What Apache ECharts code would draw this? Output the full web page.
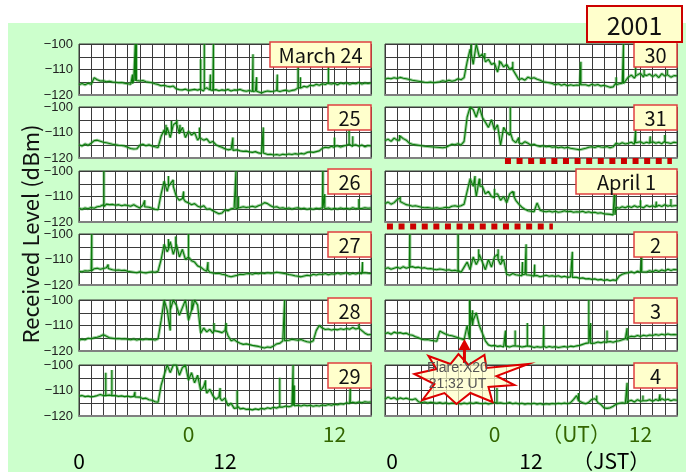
<!DOCTYPE html>
<html>
<head>
<meta charset="utf-8">
<script src="https://cdn.jsdelivr.net/npm/echarts@6/dist/echarts.min.js"></script>
<style>
html,body{margin:0;padding:0;background:#fff;}
#chart{width:686px;height:472px;}
</style>
</head>
<body>
<div id="chart"></div>
<script>
// Received level (dBm) sampled every 15 minutes, 0-24 h JST, one array per day.
const STEP = 0.25;
const panelNames = ['March 24', '25', '26', '27', '28', '29', '30', '31', 'April 1', '2', '3', '4'];
const yearLabel = '2001';

const mar24 = [
  -116,-115.5,-116,-115.4,-115.8,-113.2,-114,-114.5,
  -114.4,-114.8,-114.6,-114.9,-115,-115.2,-115.1,-115.4,
  -115.6,-115.8,-114.2,-114,-114.5,-114.3,-114.8,-115,
  -115.2,-115.6,-115.9,-116.4,-116.2,-116.6,-116.8,-116.5,
  -117.6,-117.9,-118,-117.7,-118.2,-118,-117.8,-118.1,
  -117.6,-118.4,-117.2,-118,-118.2,-117.9,-118.3,-118,
  -118.2,-117.8,-118.4,-118,-118.1,-117.8,-118.3,-118.5,
  -118.2,-118.6,-118.4,-118.9,-119.2,-118.7,-118.4,-118.6,
  -118.5,-118.2,-118.6,-118.3,-118.1,-118.5,-118.2,-118,
  -117.2,-117.5,-116.6,-116.9,-116.2,-116.4,-115.8,-116.2,
  -115.6,-115.9,-115.2,-115.7,-115.4,-116,-115.3,-115.6,
  -115.2,-115.8,-115.4,-115.6,-115.1,-115.7,-115.3,-115.5,
  -115.3
];
const mar25 = [
  -114.8,-115.3,-114.5,-115,-114.2,-113.2,-113,-113.4,
  -113.8,-114,-114.3,-114.6,-114.8,-115,-115.1,-115.3,
  -115.8,-116.3,-116.5,-116.4,-115,-114.6,-115.2,-114.8,
  -115.3,-115.6,-115.9,-111.5,-109,-108,-112,-107,
  -106,-110.5,-108,-112,-109.5,-111,-110,-113,
  -111.5,-113,-112.5,-114,-113.5,-114.8,-115.4,-115.8,
  -116.4,-116.8,-116.6,-117,-116.8,-117.2,-117.4,-117.3,
  -117.6,-117.8,-117.5,-118,-118.2,-118.4,-118.6,-118.5,
  -118.8,-118.6,-118.9,-118.5,-118.7,-118.4,-118.6,-118.3,
  -118.5,-118.2,-118.4,-117.8,-117.6,-117.8,-117.5,-117.2,
  -116.2,-115.8,-116,-115.4,-115.9,-115.2,-115.7,-115.3,
  -115,-114.2,-115.5,-114.8,-115.4,-114.9,-115.6,-115.1,
  -115.3
];
const mar26 = [
  -114.6,-115,-114.5,-114.8,-114.3,-114.6,-114,-113.8,
  -113.2,-113,-113.2,-113.1,-113.4,-113.2,-113.6,-113.3,
  -113.5,-113.8,-113.2,-113.9,-114.5,-113.4,-114.6,-114.2,
  -114.6,-115,-115.2,-109,-104,-108,-106,-103.5,
  -110,-111.5,-110.8,-112,-112.5,-113.2,-112.8,-113.8,
  -114.2,-113.6,-115,-114.8,-115.6,-116.2,-116.8,-116.5,
  -115.2,-115.6,-114.8,-114.6,-114.2,-114.5,-114,-114.3,
  -114.1,-113.8,-114.2,-113.6,-113.2,-112.4,-112.8,-113.6,
  -114.2,-114,-114.6,-114.4,-114.8,-114.5,-114.9,-114.6,
  -114.4,-114.8,-114.6,-115,-114.7,-115,-114.6,-114.8,
  -114.4,-114.8,-114.5,-115,-114.6,-114.9,-114.5,-114.8,
  -114.6,-114.9,-114.4,-114.8,-114.5,-114.7,-114.4,-114.6,
  -114.5
];
const mar27 = [
  -114.6,-114.8,-114.4,-114.5,-114.2,-113.6,-113.4,-113.8,
  -113.5,-113.2,-113.5,-114,-114.2,-114.1,-114.3,-114.2,
  -114.6,-114.8,-115,-115.2,-114.8,-115.1,-115.3,-115,
  -114.8,-115,-114.6,-110,-104,-107,-103,-108,
  -104,-109,-106,-110,-109,-110.5,-111,-112.5,
  -113,-114,-114.6,-115,-115.3,-115.5,-115.4,-115.8,
  -116,-116.5,-116.8,-116.5,-116.2,-115.8,-115.9,-115.6,
  -115.5,-115.8,-115.4,-115.6,-115.3,-115.5,-115.2,-115.4,
  -115.3,-115,-115.2,-115.4,-115.6,-115.9,-116.1,-116.4,
  -116.6,-116.8,-116.5,-116.2,-116.4,-115.8,-116.1,-115.7,
  -115.9,-115.5,-116,-115.6,-115.8,-115.3,-115.7,-115.5,
  -115.2,-115.8,-115.4,-115.7,-115.3,-115.6,-115.2,-115.4,
  -115.5
];
const mar28 = [
  -115.8,-115.4,-115.6,-115,-115.2,-114.8,-114.6,-114.2,
  -113.6,-114.2,-114.8,-115,-115.2,-115.1,-115.3,-115.2,
  -115.4,-115.6,-115.3,-115.7,-115.4,-115.6,-115.3,-115.5,
  -115.4,-115.7,-115.2,-108,-100,-104,-112,-100,
  -102,-106,-103,-100,-108,-104,-100,-102,
  -113,-111,-112.5,-111.5,-113,-112,-112.4,-112.8,
  -112,-114,-116,-115.5,-116.4,-117,-117.4,-117.2,
  -117.5,-117.8,-118,-118.2,-118.5,-118.8,-118.4,-118.6,
  -118,-117.2,-117,-116,-115.6,-115.8,-115.4,-115.6,
  -115.8,-115.5,-116,-116.4,-116.6,-116,-112,-110,
  -111,-111.6,-111.4,-111.8,-111.5,-111.7,-111.3,-111.6,
  -111.2,-111.5,-110.8,-111.4,-111,-112,-113,-113.6,
  -113.5
];
const mar29 = [
  -112.2,-112,-112.4,-112.2,-112.5,-112.3,-112,-111.6,
  -112,-111.4,-111.8,-112.2,-112,-112.3,-112.1,-112.4,
  -112.2,-112.5,-112.3,-112.8,-112.6,-113.2,-113,-113.6,
  -113.8,-114.4,-114.6,-108,-104,-100,-103,-100,
  -100,-104,-101,-100,-106,-103,-107,-104,
  -110,-108.5,-111,-109.5,-112,-113.5,-112.5,-114,
  -113,-116,-115,-117,-116.8,-117.2,-117,-117.4,
  -117.3,-117.6,-117.2,-117.5,-117,-117.3,-116.8,-117.1,
  -116.6,-116.9,-116.3,-116.5,-116.1,-116.4,-116,-116.2,
  -115.8,-116.1,-115.7,-116,-115.8,-116.2,-115.9,-116.1,
  -115.7,-115.9,-115.5,-115.8,-115.4,-115.6,-115.2,-115.4,
  -114.8,-115.1,-114.6,-114.9,-114.5,-114.8,-114.4,-114.6,
  -114.5
];
const mar30 = [
  -113.8,-113.4,-113.6,-113.2,-113.5,-113.1,-113.4,-113.6,
  -113.9,-114.2,-114.4,-114.6,-114.8,-115,-115.1,-114.9,
  -115.2,-115,-114.8,-114.4,-114.7,-114.2,-114.6,-114.3,
  -113.6,-114,-113.2,-107,-102,-108,-100,-105,
  -104,-107,-106,-108,-107.5,-111,-107,-109,
  -108,-110,-109,-112,-114,-113.5,-114.2,-113,
  -113.5,-113.2,-113.8,-114.2,-114.8,-115,-115.2,-115.5,
  -116,-115.6,-116.2,-115.8,-116.4,-116,-116.3,-116.1,
  -116.2,-115.8,-116,-116.4,-115.8,-116.2,-115.9,-116.5,
  -116.2,-116.6,-117,-116.8,-115.2,-115.6,-115.4,-115,
  -113,-112.2,-113.4,-112,-111.5,-113,-112.4,-111.8,
  -112.8,-112,-113.2,-111.6,-112.6,-112.2,-113,-112.4,
  -112.5
];
const mar31 = [
  -113.2,-112.6,-113.5,-112.2,-113,-111.4,-112.4,-113,
  -114.2,-114.6,-114.8,-115,-115.2,-115.4,-115.5,-115.6,
  -115.7,-115.8,-115.9,-116,-115.8,-115.2,-114.6,-114.8,
  -114.4,-114.9,-113.5,-104,-100,-101,-104,-100,
  -104,-106,-108,-105,-109,-107,-115,-108,
  -110,-111,-113,-114,-112,-114.5,-113.6,-114.2,
  -115,-114.6,-115.2,-115.5,-115.2,-115.6,-115.4,-115.8,
  -115.6,-116,-115.7,-116.1,-115.8,-116.2,-116.4,-116.6,
  -116.8,-116.5,-116.2,-115.8,-115.6,-115.9,-115.4,-115.7,
  -115.8,-115.5,-116,-115.6,-114.2,-114.6,-114,-114.5,
  -114.2,-113.8,-114.6,-114,-113.6,-114.3,-113.8,-114.2,
  -113.6,-114.2,-113.8,-114.4,-113.4,-114,-114.3,-113.8,
  -114
];
const apr1 = [
  -112.8,-112.2,-113,-112.4,-111.2,-110.6,-112.6,-113.2,
  -113.4,-113.8,-113.6,-113.9,-114.2,-114.4,-114.3,-114.5,
  -114.6,-114.4,-114.7,-114.5,-114.2,-114.4,-113.8,-113.6,
  -113.9,-113.6,-113,-108,-103,-106,-110,-103,
  -106,-109,-108,-110,-110.5,-109,-111.5,-110,
  -112.5,-109,-108,-111.5,-113,-114.2,-115,-115.6,
  -115.8,-116,-112.5,-115.4,-115.8,-116,-115.7,-116.1,
  -115.8,-116.2,-116,-115.6,-116,-115.8,-116.2,-116,
  -116.1,-115.8,-116.3,-116,-116.4,-116.2,-116.6,-116.4,
  -116.8,-116.9,-117,-117.2,-114.2,-114.6,-114,-114.4,
  -113.8,-114.3,-113.6,-114.2,-113.7,-114.4,-113.5,-114,
  -113.6,-114.2,-113.4,-113.9,-113.2,-113.8,-113.4,-113.6,
  -113.5
];
const apr2 = [
  -113.6,-113.2,-113.8,-113.4,-113,-113.5,-112.8,-113.4,
  -113,-112.8,-113.2,-113,-113.4,-113.2,-113.6,-113.5,
  -113.8,-114,-113.7,-113.9,-114.2,-114,-114.4,-114.2,
  -114.6,-115,-113,-111,-114,-109,-112,-108,
  -111,-114,-110,-113,-109,-108,-112,-110,
  -115.8,-116.2,-115.5,-116,-116.2,-116.4,-115.8,-116.3,
  -116.2,-116.6,-116.3,-116.8,-116.5,-116.2,-116.6,-116.4,
  -116.7,-116.4,-116.9,-116.6,-117,-116.8,-117.2,-117,
  -117.4,-117.2,-117.6,-117.5,-117.8,-117.6,-118,-117.8,
  -118.2,-117.9,-118.3,-118,-118.2,-116.5,-115.8,-115.4,
  -115.2,-114.8,-115.3,-114.6,-115,-114.5,-114.9,-114.4,
  -114.8,-114.2,-114.7,-114.1,-114.5,-113.8,-114.3,-113.9,
  -114
];
const apr3 = [
  -113.2,-112.8,-113.4,-112.6,-113,-112.8,-113.2,-113,
  -113.6,-113.8,-114.4,-114.8,-115.4,-115.6,-115.5,-115.8,
  -116,-116.2,-112.2,-112.8,-113.4,-113.8,-114,-114.4,
  -114.8,-115.2,-115.6,-110,-104,-108,-105,-110,
  -113,-116,-117.6,-118,-117.8,-118.2,-118,-118.4,
  -118.2,-118.4,-118,-118.3,-118.1,-118.4,-118.2,-118.5,
  -118.2,-118.6,-118.3,-118.5,-118.4,-118.6,-118.2,-118.5,
  -118.3,-118.6,-118.4,-118.2,-118.5,-118.1,-118.3,-118,
  -117.8,-117.4,-117,-116.8,-116.6,-116.9,-116.5,-116.8,
  -116.4,-116.7,-116.3,-116.6,-116.2,-116,-115.6,-115.2,
  -114.6,-114.2,-114.4,-113.9,-114.3,-113.8,-114.1,-113.7,
  -113.9,-113.5,-113.8,-113.4,-113.7,-113.3,-113.6,-113.5,
  -113.6
];
const apr4 = [
  -113.4,-112.6,-113.2,-112.8,-113.5,-112.9,-113.3,-113,
  -113.4,-113.6,-113.2,-114.4,-114.8,-114.5,-114.9,-114.6,
  -114.8,-115,-114.7,-115.1,-114.8,-115.2,-114.9,-115.1,
  -115,-115.3,-114.9,-115.2,-114.8,-115.1,-114.7,-115,
  -115.2,-114.9,-115.3,-115,-114.6,-115.2,-114.8,-115.1,
  -115,-114.7,-115.2,-114.9,-115.3,-115,-115.4,-115.1,
  -115.3,-115,-115.4,-115.1,-115.5,-115.2,-115.4,-115.1,
  -115.3,-115,-115.2,-114.9,-115.2,-114.8,-113.5,-112,
  -113.8,-114.8,-115.2,-114.6,-113.5,-113.2,-114.8,-115.5,
  -116.8,-117,-116.8,-116.2,-115.4,-115,-114.8,-115,
  -114.2,-113.8,-114.5,-113.6,-114.2,-113.4,-114,-113.6,
  -114.2,-113.5,-114,-113.2,-113.8,-113.4,-114,-113.6,
  -113.8
];

// Short bursts: [hour JST, level before/after, peak level]
const mar24Spikes = [[4.4,-115.5,-112],[4.62,-114.5,-100],[4.72,-114.3,-100],[10.0,-117.8,-106],[10.3,-117.6,-100],[10.8,-118,-112],[11.05,-118,-100],[14.3,-118.6,-104],[14.6,-118.5,-113],[16.3,-118.3,-112],[18.0,-117,-109],[18.2,-117.3,-113],[20.5,-115.5,-109]];
const mar25Spikes = [[7.15,-111,-107],[7.6,-110,-105.5],[8.05,-107,-105],[8.3,-110,-107],[9.9,-112,-108],[12.65,-117,-112],[15.15,-118,-108],[21,-115.5,-112],[22.2,-114.5,-109],[22.5,-115,-111.5]];
const mar26Spikes = [[2.05,-114,-100],[5.4,-114,-111.5],[7.35,-106,-102],[7.75,-106,-104],[8.6,-111,-108],[12.9,-114.8,-100],[13.1,-114.5,-110],[20.05,-114.6,-100],[20.2,-114.8,-109],[23,-114.7,-111]];
const mar27Spikes = [[1.05,-114.4,-100],[2.4,-113.5,-112],[7.35,-106,-102],[7.95,-105,-101],[9.0,-109,-100],[10.6,-114,-111],[23.3,-115.3,-111]];
const mar28Spikes = [[7.5,-104,-100],[9.3,-104,-100],[11.1,-112,-109],[12.1,-112,-109],[16.9,-116,-100],[23.0,-111,-109.5]];
const mar29Spikes = [[2.2,-112,-103],[2.7,-112,-102],[4.6,-112.5,-110.5],[10.4,-109,-106],[11.6,-113,-109],[13.0,-116,-110],[16.5,-116.5,-105],[17.6,-116,-100],[17.7,-116,-108],[22.3,-114.8,-108]];
const mar30Spikes = [[7.1,-104,-100],[8.2,-106,-103.5],[9.4,-108,-106.5],[10.5,-110,-107],[16.1,-116,-107],[19.0,-116,-113],[19.6,-115.5,-100],[20.6,-112.5,-109],[21.3,-112,-110],[23.2,-112,-110]];
const mar31Spikes = [[1.2,-113,-111],[10.3,-110,-100],[11.0,-114,-112],[20.6,-114,-109],[21.8,-114,-111.5],[23,-113.8,-111]];
const apr1Spikes = [[1.25,-112,-110],[7.4,-106,-102],[7.8,-106,-103],[9.0,-109,-107],[10.6,-110,-108],[18.9,-117.2,-103],[21.0,-114,-111.5],[22.3,-114,-112],[23.5,-113.8,-111]];
const apr2Spikes = [[2.05,-113,-100],[6.0,-114.2,-100],[7.7,-110,-106],[9.3,-110,-106],[9.6,-111,-108.5],[11.3,-116,-111],[11.6,-116,-104],[12.3,-116.4,-112],[15.4,-117,-107],[21.1,-114.8,-109]];
const apr3Spikes = [[6.95,-115.5,-100],[7.2,-110,-104],[9.9,-118,-112],[10.7,-118,-112],[11.7,-118,-109],[13.05,-118,-110],[16.75,-117,-100],[16.9,-117,-109],[18.25,-116.5,-112],[19.9,-115.8,-111]];
const apr4Spikes = [[9.2,-115,-109],[15.9,-114,-111],[17.4,-114,-112],[19.9,-115,-107],[21.2,-114,-112],[22.6,-114,-111.5]];

const levels = [mar24, mar25, mar26, mar27, mar28, mar29, mar30, mar31, apr1, apr2, apr3, apr4];
const spikes = [mar24Spikes, mar25Spikes, mar26Spikes, mar27Spikes, mar28Spikes, mar29Spikes,
                mar30Spikes, mar31Spikes, apr1Spikes, apr2Spikes, apr3Spikes, apr4Spikes];

// Observation period markers (hour JST start, end) drawn under the March 31 and April 1 panels
const period31 = [9.86, 23.58];
const periodApr1 = [0.16, 13.8];

// Solar flare annotation on April 3
const flareHour = 6.53;   // 21:32 UT = 06:32 JST
const flareLevel = -115.3;
const flareText = ['Flare:X20', '21:32 UT'];

// Time axis labels (hour JST positions)
const jstLabels = [[0, '0'], [12, '12']];
const utLabels = [[9, '0'], [21, '12']];
const yTickLabels = [-120, -110, -100];

const yTitle = 'Received Level (dBm)';

// ---------- layout ----------
const colLeft = [79, 385];
const rowTop = [44, 107, 171, 234, 300, 365];
const PW = 292, PH = 51;
const FONT_JP = '"Noto Sans CJK JP", "Noto Sans", sans-serif';
const LINE_DARK = '#0a7a0a';
const LINE_SOFT = 'rgba(60,160,60,0.5)';

function buildLine(base, sp) {
  const pts = base.map((v, i) => [i * STEP, v]);
  sp.forEach(([h, b, p]) => { pts.push([h, b], [h, p], [h, b]); });
  return pts.sort((a, c) => a[0] - c[0]); // stable: keeps each burst's points in order
}

const grids = [], xAxes = [], yAxes = [], series = [];
levels.forEach((lv, i) => {
  const col = i < 6 ? 0 : 1, row = i % 6;
  grids.push({
    left: colLeft[col], top: rowTop[row], width: PW, height: PH,
    show: true, backgroundColor: '#ffffff', borderColor: '#3a3a3a', borderWidth: 1
  });
  xAxes.push({
    type: 'value', gridIndex: i, min: 0, max: 24, interval: 1,
    axisLabel: { show: false }, axisTick: { show: false },
    axisLine: { show: true, onZero: false, lineStyle: { color: '#808080', width: 2 } },
    splitLine: { show: true, lineStyle: { color: '#3a3a3a', width: 1 } }
  });
  yAxes.push({
    type: 'value', gridIndex: i, min: -120, max: -100, interval: 5,
    axisLine: { show: false }, axisTick: { show: false },
    axisLabel: {
      show: col === 0, margin: 6, fontSize: 13, color: '#222',
      fontFamily: '"Liberation Sans", Arial, sans-serif',
      formatter: v => yTickLabels.indexOf(v) >= 0 ? '\u2212' + Math.abs(v) : ''
    },
    splitLine: { show: true, lineStyle: { color: '#3a3a3a', width: 1 } }
  });
  const data = buildLine(lv, spikes[i]);
  series.push({
    type: 'line', xAxisIndex: i, yAxisIndex: i, data: data, symbol: 'none',
    lineStyle: { color: LINE_SOFT, width: 3 }, z: 2, silent: true
  });
  series.push({
    type: 'line', xAxisIndex: i, yAxisIndex: i, data: data, symbol: 'none',
    lineStyle: { color: LINE_DARK, width: 1.1 }, z: 3, silent: true
  });
});

// Period markers: red square dashes just below the panels
[[7, period31, -121.2], [8, periodApr1, -121.8]].forEach(([gi, per, lvl]) => {
  series.push({
    type: 'line', xAxisIndex: gi, yAxisIndex: gi, clip: false, symbol: 'none', silent: true, z: 5,
    data: [[per[0], lvl], [per[1], lvl]],
    lineStyle: { color: '#cc0000', width: 6, type: [6, 5.6], cap: 'butt' }
  });
});

const chart = echarts.init(document.getElementById('chart'), null, { renderer: 'canvas' });
chart.setOption({
  animation: false,
  backgroundColor: '#ffffff',
  grid: grids, xAxis: xAxes, yAxis: yAxes, series: series
});

// ---------- decorations ----------
const g = [];
// pale green plate behind all panels
g.push({ type: 'rect', z: -10, shape: { x: 8, y: 23, width: 678, height: 449 }, style: { fill: '#ccffcc' } });

// day labels in the upper right of each panel
panelNames.forEach((name, i) => {
  const col = i < 6 ? 0 : 1, row = i % 6;
  const w = name.length > 2 ? 101 : 43;
  const right = colLeft[col] + PW;
  const top = rowTop[row] - 2;
  g.push({ type: 'rect', z: 50, shape: { x: right - w, y: top, width: w, height: 25 },
    style: { fill: '#ffffcc', stroke: '#e04040', lineWidth: 1.5 } });
  g.push({ type: 'text', z: 51, x: right - w / 2, y: top + 13,
    style: { text: name, fill: '#111', font: '20px ' + FONT_JP, align: 'center', verticalAlign: 'middle' } });
});

// year box
g.push({ type: 'rect', z: 60, shape: { x: 587, y: 6, width: 95, height: 36 },
  style: { fill: '#ffffcc', stroke: '#cc0000', lineWidth: 2 } });
g.push({ type: 'text', z: 61, x: 634.5, y: 25,
  style: { text: yearLabel, fill: '#111', font: '25px ' + FONT_JP, align: 'center', verticalAlign: 'middle' } });

// vertical axis title
g.push({ type: 'text', z: 20, x: 31, y: 234, rotation: Math.PI / 2,
  style: { text: yTitle, fill: '#111', font: '22px ' + FONT_JP, align: 'center', verticalAlign: 'middle' } });

// time labels under the bottom panels
[5, 11].forEach((gi, c) => {
  const bottomY = rowTop[5] + PH;
  jstLabels.forEach(([h, t]) => {
    const p = chart.convertToPixel({ xAxisIndex: gi, yAxisIndex: gi }, [h, -120]);
    g.push({ type: 'text', z: 20, x: p[0] + (c === 1 && h === 0 ? 7 : 0), y: bottomY + 45,
      style: { text: t, fill: '#000', font: '21px ' + FONT_JP, align: 'center', verticalAlign: 'middle' } });
  });
  utLabels.forEach(([h, t]) => {
    const p = chart.convertToPixel({ xAxisIndex: gi, yAxisIndex: gi }, [h, -120]);
    g.push({ type: 'text', z: 20, x: p[0], y: bottomY + 18,
      style: { text: t, fill: '#336600', font: '21px ' + FONT_JP, align: 'center', verticalAlign: 'middle' } });
  });
});
{
  const bottomY = rowTop[5] + PH;
  const pUT = chart.convertToPixel({ xAxisIndex: 11, yAxisIndex: 11 }, [15.7, -120]);
  const pJST = chart.convertToPixel({ xAxisIndex: 11, yAxisIndex: 11 }, [18.6, -120]);
  g.push({ type: 'text', z: 20, x: pUT[0], y: bottomY + 18,
    style: { text: '（UT）', fill: '#336600', font: '21px ' + FONT_JP, align: 'center', verticalAlign: 'middle' } });
  g.push({ type: 'text', z: 20, x: pJST[0], y: bottomY + 45,
    style: { text: '（JST）', fill: '#000', font: '21px ' + FONT_JP, align: 'center', verticalAlign: 'middle' } });
}

// flare burst label with arrow pointing at the onset
{
  const tip = chart.convertToPixel({ xAxisIndex: 10, yAxisIndex: 10 }, [flareHour, flareLevel]);
  const cx = tip[0] - 4, cy = tip[1] + 39;
  const star = [[-46,-4],[-24,-9],[-32,-22],[-10,-14],[-2,-24],[8,-13],[24,-23],[26,-10],
                [68,-14],[36,-2],[54,7],[28,9],[32,24],[10,15],[-4,26],[-16,15],[-38,22],[-26,6]]
    .map(([dx, dy]) => [cx + dx, cy + dy]);
  g.push({ type: 'polygon', z: 70, shape: { points: star },
    style: { fill: 'rgba(255,255,200,0.72)', stroke: '#dd0000', lineWidth: 2 } });
  g.push({ type: 'line', z: 71, shape: { x1: tip[0], y1: tip[1] + 9, x2: tip[0], y2: tip[1] + 24 },
    style: { stroke: '#dd0000', lineWidth: 3 } });
  g.push({ type: 'polygon', z: 72, shape: { points: [[tip[0], tip[1]], [tip[0] - 6, tip[1] + 11], [tip[0] + 6, tip[1] + 11]] },
    style: { fill: '#dd0000' } });
  g.push({ type: 'text', z: 73, x: cx - 3, y: cy - 10,
    style: { text: flareText[0], fill: '#555', font: '14px "Liberation Sans", Arial, sans-serif', align: 'center', verticalAlign: 'middle' } });
  g.push({ type: 'text', z: 73, x: cx - 3, y: cy + 6,
    style: { text: flareText[1], fill: '#555', font: '14px "Liberation Sans", Arial, sans-serif', align: 'center', verticalAlign: 'middle' } });
}

chart.setOption({ graphic: g });
</script>
</body>
</html>
